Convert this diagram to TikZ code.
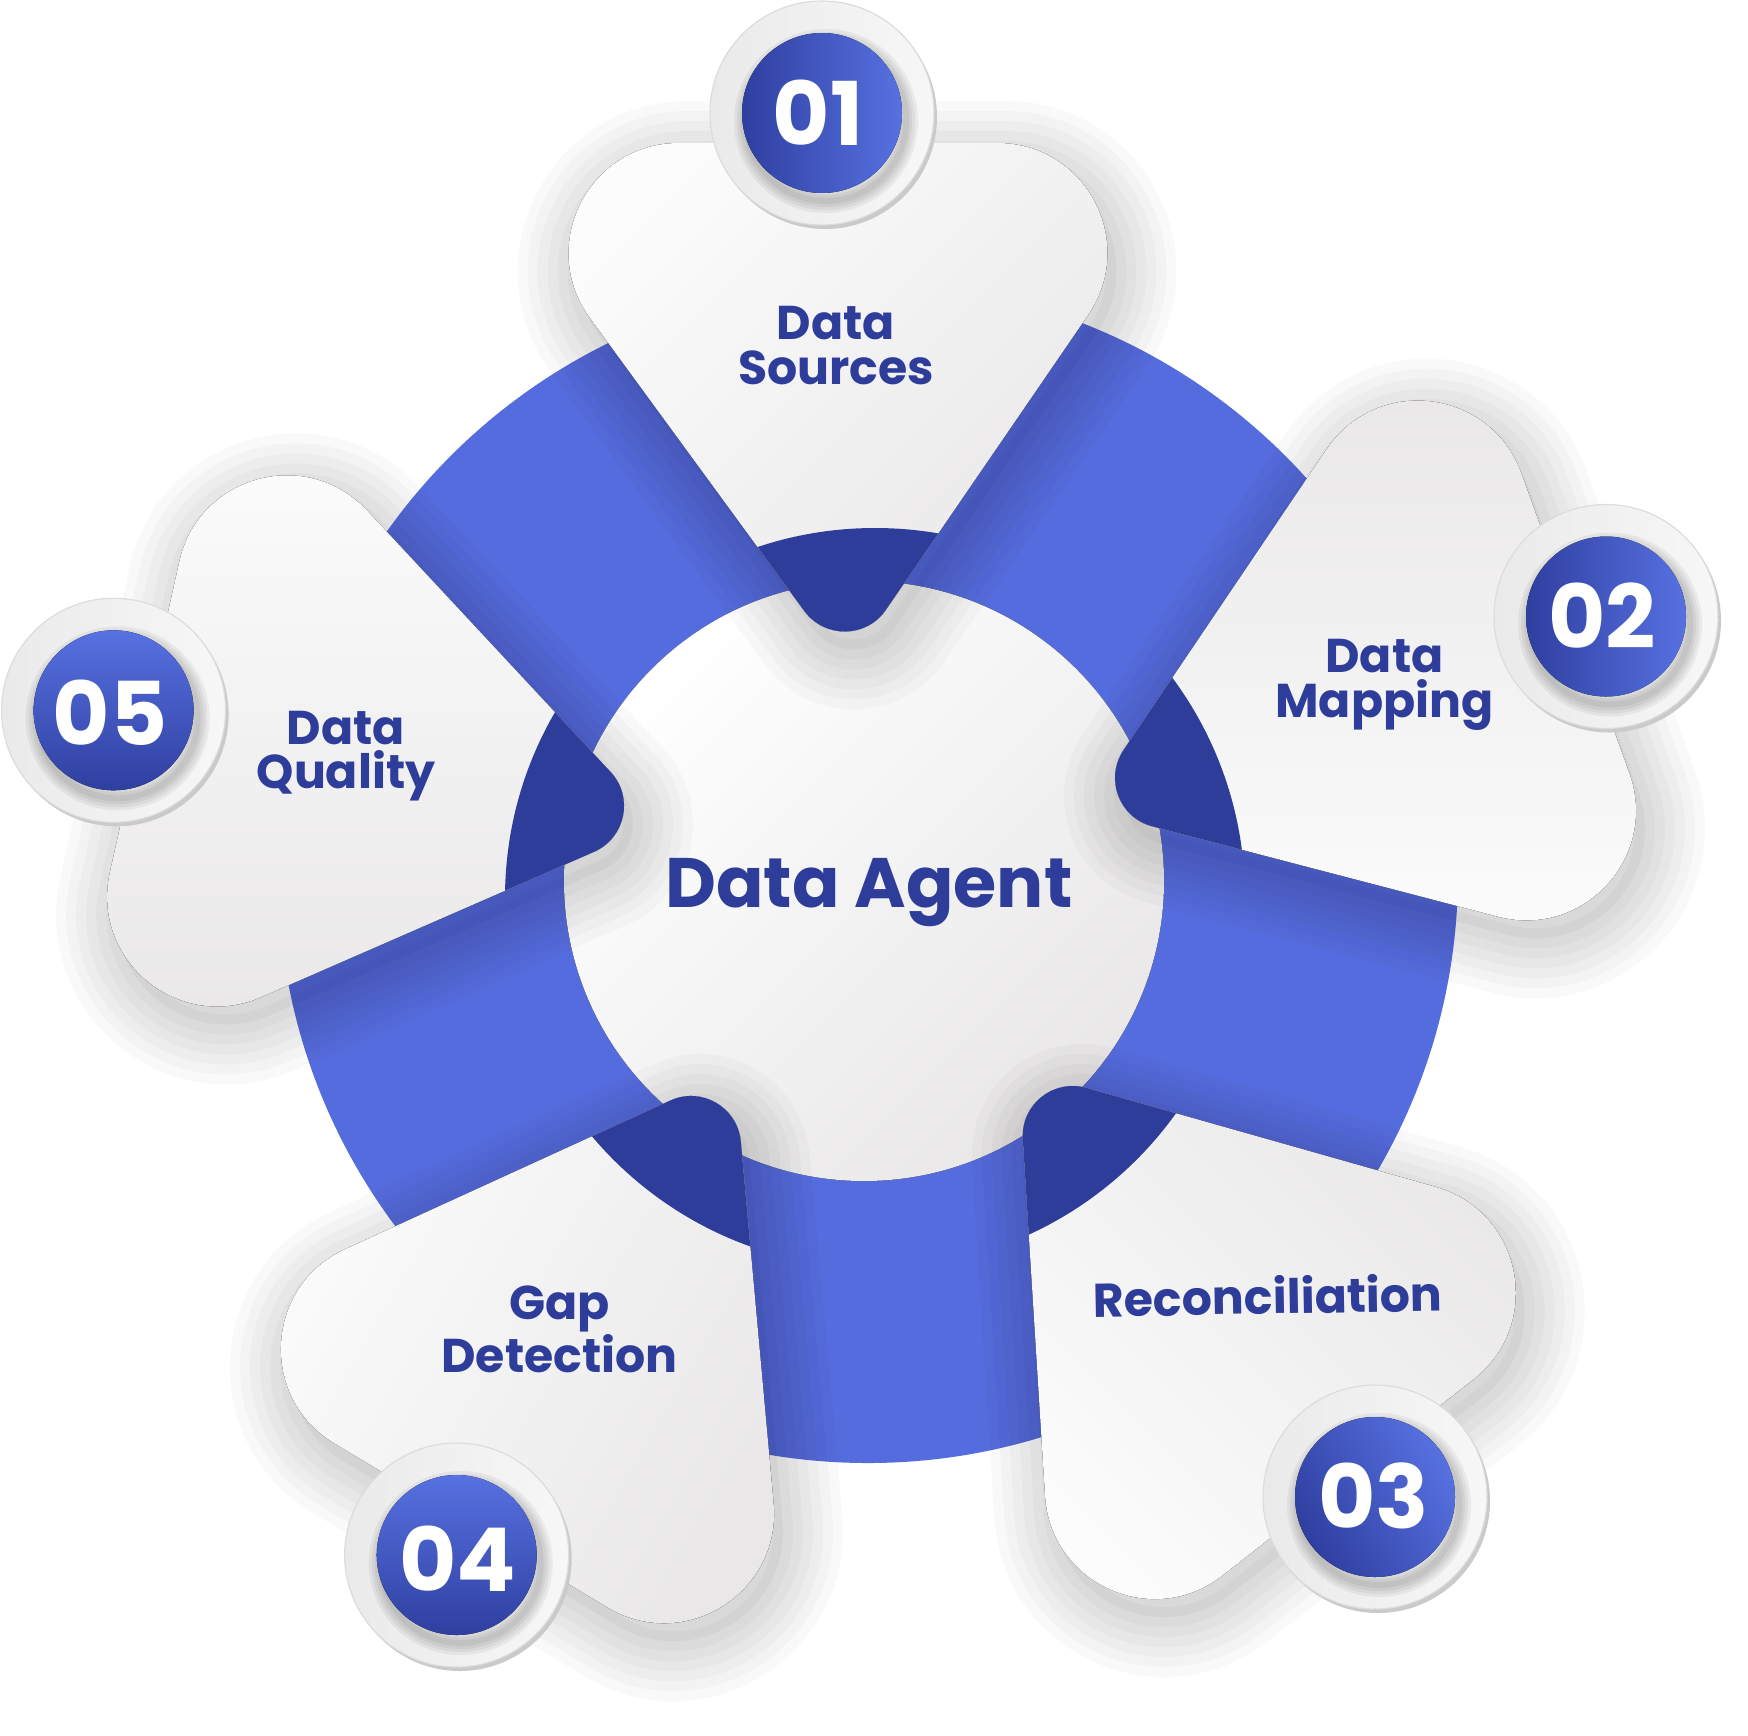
\documentclass[tikz,border=0pt]{standalone}
\usepackage{fontspec}
\setmainfont{Poppins}
\definecolor{navy}{HTML}{2E3D99}
\definecolor{ringblue}{HTML}{556CDE}
\definecolor{darkring}{HTML}{2E3D99}
\definecolor{petalLight}{HTML}{FCFCFC}
\definecolor{petalGray}{HTML}{E9E7E8}
\definecolor{badgeLight}{HTML}{5771E1}
\definecolor{badgeDark}{HTML}{2F3FA0}
\definecolor{discA}{HTML}{EAEAEA}
\definecolor{discB}{HTML}{F7F7F7}
\definecolor{rimgray}{HTML}{CACACA}
\definecolor{edgegray}{HTML}{DDDDDD}
\newcommand\petalpath{(834,143) -- (997.4,143) .. controls (1085.9,143) and (1138.0,242.0) .. (1088.0,315.0) -- (885.9,609.8) .. controls (866.4,638.3) and (824.7,638.8) .. (804.3,611.0) -- (590.0,318.0) .. controls (536.8,245.3) and (588.7,143) .. (678.8,143) -- cycle}
\begin{document}
\begin{tikzpicture}[x=0.5pt,y=-0.5pt,
  shadowline/.style={draw=black, draw opacity=0.022, line join=round},
  petalfill/.style={top color=petalLight, bottom color=petalGray},
  badgefill/.style={top color=badgeLight, bottom color=badgeDark},
  lbl/.style={font=\fontsize{23.7}{#1}\selectfont\bfseries, text=navy, inner sep=0pt, anchor=base, align=center},
  agentlbl/.style={font=\fontsize{35}{36}\selectfont\bfseries, text=navy, inner sep=0pt, anchor=base},
  numlbl/.style={font=\fontsize{44}{44}\selectfont\bfseries, text=white, inner sep=0pt, anchor=center}]
\useasboundingbox (0,0) rectangle (1748,1735);
\fill[white] (0,0) rectangle (1748,1735);
% outer blue ring
\fill[ringblue] (868,873) circle[radius=295pt];
% inner white disc
\fill[top color=white, bottom color=petalGray, shading angle=45] (864,881) circle[radius=150pt];
% petal shadows
\begin{scope}[shift={(9,18)}]
  \foreach \dx/\dy/\pa in {0/0/0, 320.3/196.5/-70.2, 228/554.5/-142, -153.7/564.5/-211, -270.7/224.5/-282.6}{
    \begin{scope}[shift={(\dx,\dy)}, rotate around={\pa:(844.7,581.5)}]
      \fill[black, opacity=0.03] \petalpath;
      \foreach \w in {10,20,30,40,50,60}{\draw[shadowline, line width=\w pt] \petalpath;}
    \end{scope}}
\end{scope}
% petals with dark inner tips
\foreach \dx/\dy/\pa/\sa in {0/0/0/45, 320.3/196.5/-70.2/180, 228/554.5/-142/135, -153.7/564.5/-211/60, -270.7/224.5/-282.6/0}{
  \begin{scope}[shift={(\dx,\dy)}, rotate around={\pa:(844.7,581.5)}]
    \fill[petalfill, shading angle=\sa] \petalpath;
    \clip \petalpath;
    \begin{scope}[reset cm]
      \fill[darkring] (875,898) circle[radius=185pt];
    \end{scope}
  \end{scope}}
% badges
\foreach \bx/\by/\ba in {822/113/-90, 1606/616.5/-90, 1375/1497/-60, 456.7/1555/0, 113.6/710.3/0}{
  \fill[rimgray] (\bx+3,\by+4) circle[radius=56pt];
  \fill[left color=discA, right color=discB] (\bx,\by) circle[radius=56pt];
  \draw[edgegray, line width=0.6pt] (\bx,\by) circle[radius=56pt];
  \foreach \w in {3,6,9,12}{\draw[black, draw opacity=0.05, line width=\w pt] (\bx+4,\by+8) circle[radius=40pt];}
  \fill[badgefill, shading angle=\ba] (\bx,\by) circle[radius=40pt];
}
\node[numlbl] (n1) at (818,112.7) {01};
\node[numlbl] (n2) at (1602,615.4) {02};
\node[numlbl] (n3) at (1373.9,1495.8) {03};
\node[numlbl] (n4) at (457.6,1558.9) {04};
\node[numlbl] (n5) at (110,712.7) {05};
% labels (base anchor = baseline of the last line)
\node[lbl=22.5] (l1) at (836,384) {Data\\Sources};
\node[lbl=22.35] (l2) at (1384.5,717.5) {Data\\Mapping};
\node[lbl=24, rotate=1] (l3) at (1268,1314) {Reconciliation};
\node[lbl=24] (l4) at (559.5,1372.4) {Gap\\Detection};
\node[lbl=22] (l5) at (346,788.7) {Data\\Quality};
\node[agentlbl] (agent) at (869,907) {Data Agent};
\end{tikzpicture}
\end{document}
